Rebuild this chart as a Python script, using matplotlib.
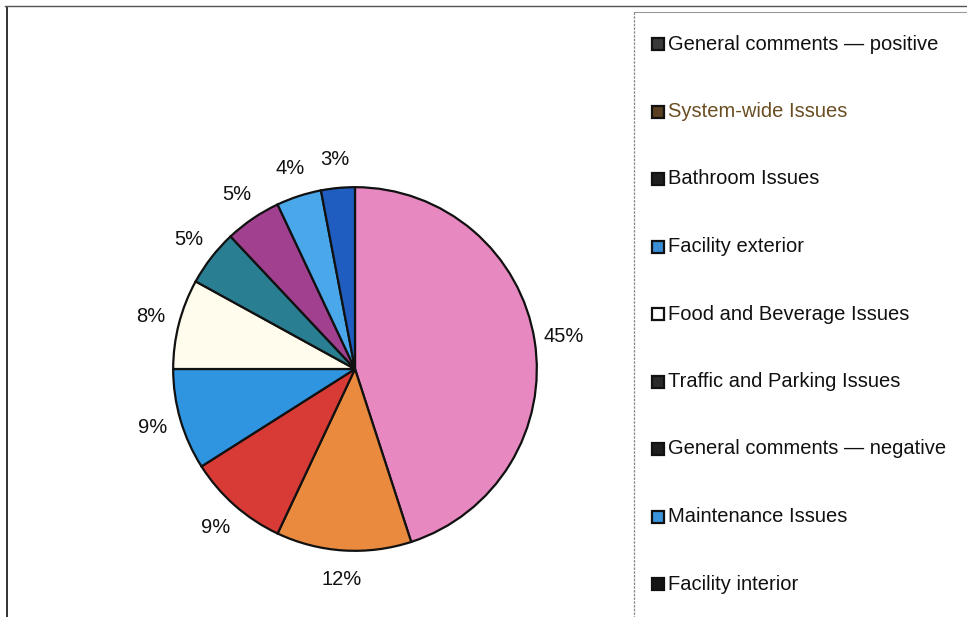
import matplotlib.pyplot as plt
import numpy as np
from matplotlib.lines import Line2D
from matplotlib.patches import Rectangle

plt.rcParams["font.family"] = ["Liberation Sans", "DejaVu Sans"]

# slices, clockwise from 12 o'clock
categories = [
    "General comments \u2014 positive",
    "System-wide Issues",
    "Bathroom Issues",
    "Facility exterior",
    "Food and Beverage Issues",
    "Traffic and Parking Issues",
    "General comments \u2014 negative",
    "Maintenance Issues",
    "Facility interior",
]
shares = [45, 12, 9, 9, 8, 5, 5, 4, 3]
slice_colors = ["#E888C1", "#E98A3E", "#D83B36", "#2F95E0", "#FFFCEE",
                "#2A7E92", "#A0408F", "#4AA8EA", "#1F5EC0"]
# legend swatches came out dark on the printed sheet
swatch_colors = ["#3a3a3a", "#5a4020", "#1e1e1e", "#3B8DD6", "#ffffff",
                 "#2a2a2a", "#1e1e1e", "#3B95DC", "#151515"]
text_colors = ["#111111", "#6A4E22", "#111111", "#111111", "#111111",
               "#111111", "#111111", "#111111", "#111111"]

W, H = 967, 617
fig = plt.figure(figsize=(W / 100, H / 100), dpi=100)
fig.patch.set_facecolor("white")


def px(x, y):
    return x / W, 1 - y / H


# pie area, centre (355, 369) px, radius ~182 px
cx, cy, half = 355, 369, 200
ax = fig.add_axes([(cx - half) / W, (H - cy - half) / H, 2 * half / W, 2 * half / H])
wedges, texts = ax.pie(
    shares, colors=slice_colors, startangle=90, counterclock=False,
    labels=[f"{v}%" for v in shares], labeldistance=1.16,
    wedgeprops=dict(edgecolor="#111111", linewidth=1.6),
    textprops=dict(fontsize=14.5, color="#111111"),
)
for t in texts:
    t.set_horizontalalignment("center")
    t.set_verticalalignment("center")
ax.set_xlim(-1.1, 1.1)
ax.set_ylim(-1.1, 1.1)
ax.set_aspect("auto")
ax.axis("off")

# outer chart frame (left and top edges visible)
fig.add_artist(Line2D([px(7, 0)[0]] * 2, [px(0, 7)[1], 0], color="#222222", lw=1.3))
fig.add_artist(Line2D([px(5, 0)[0], 1], [px(0, 6)[1]] * 2, color="#555555", lw=1.0))

# legend box
fig.add_artist(Line2D([px(634, 0)[0]] * 2, [px(0, 12)[1], 0], color="#888888",
                      lw=0.9, ls=(0, (2, 1))))
fig.add_artist(Line2D([px(634, 0)[0], 1], [px(0, 12)[1]] * 2, color="#999999", lw=0.8))

# legend entries
row_y = np.linspace(44, 584, len(categories))
for name, sc, tc, y in zip(categories, swatch_colors, text_colors, row_y):
    x0, y0 = px(652, y + 6)
    fig.add_artist(Rectangle((x0, y0), 12 / W, 12 / H, facecolor=sc,
                             edgecolor="#111111", linewidth=1.6))
    fig.text(*px(668, y), name, fontsize=14.5, color=tc, ha="left", va="center")

fig.savefig("out.png", dpi=100, facecolor="white")
